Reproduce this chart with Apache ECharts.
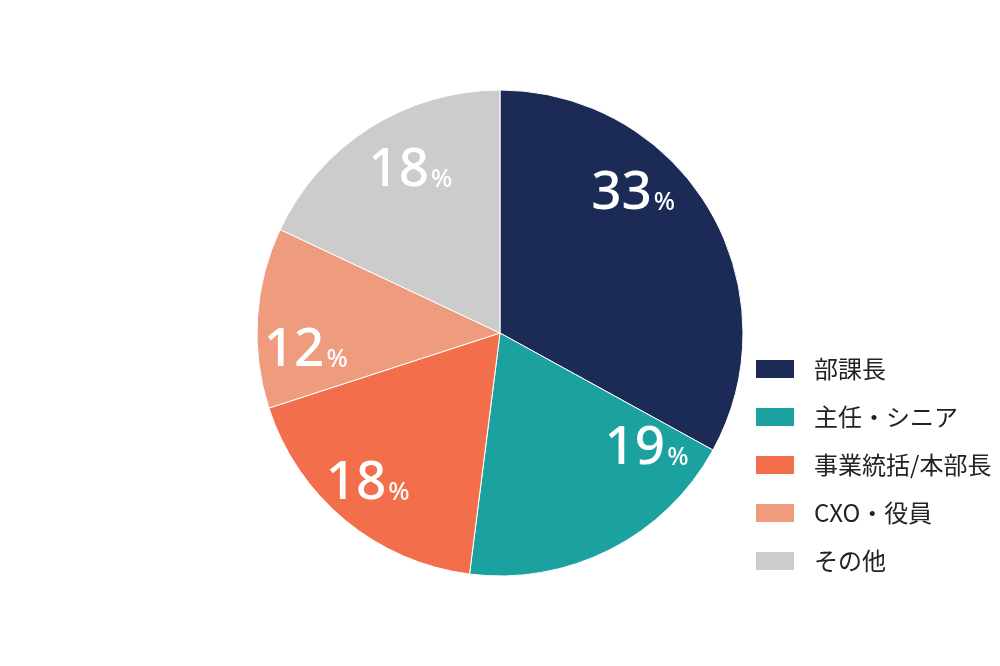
<!DOCTYPE html>
<html><head><meta charset="utf-8">
<script src="https://cdn.jsdelivr.net/npm/echarts@6/dist/echarts.min.js"></script>
<style>html,body{margin:0;padding:0;background:#fff}#c{width:1000px;height:666px}</style>
</head><body><div id="c"></div>
<script>
const categories = ['部課長', '主任・シニア', '事業統括/本部長', 'CXO・役員', 'その他'];
const values = [33, 19, 18, 12, 18];
const colors = ['#1c2a56', '#1ca1a1', '#f36e4b', '#ee9b7e', '#cccccc'];
const labelOffsets = [[26, -76], [90, 5], [-53, 55], [-70, 26], [-23, -57]];

const chart = echarts.init(document.getElementById('c'));
chart.setOption({
  animation: false,
  color: colors,
  legend: {
    orient: 'vertical',
    left: 754,
    top: 357,
    padding: 0,
    itemWidth: 40,
    itemHeight: 20,
    itemGap: 24,
    icon: 'rect',
    data: categories,
    textStyle: { fontSize: 24, color: '#222', fontFamily: 'Noto Sans CJK JP', padding: [0, 0, 0, 14] }
  },
  series: [{
    type: 'pie',
    center: [500, 333],
    radius: [0, 243],
    startAngle: 90,
    clockwise: true,
    itemStyle: { borderColor: '#fff', borderWidth: 1 },
    label: {
      position: 'inside',
      formatter: p => '{n|' + p.value + '}{p|%}',
      rich: {
        n: { fontSize: 53, color: '#fff', fontFamily: 'Noto Sans', fontWeight: 500 },
        p: { fontSize: 25, color: '#fff', fontFamily: 'Noto Sans', fontWeight: 500, verticalAlign: 'bottom', padding: [0, 0, 5, 2] }
      }
    },
    labelLine: { show: false },
    data: categories.map((c, i) => ({ name: c, value: values[i], label: { offset: labelOffsets[i] } }))
  }]
});
</script></body></html>
